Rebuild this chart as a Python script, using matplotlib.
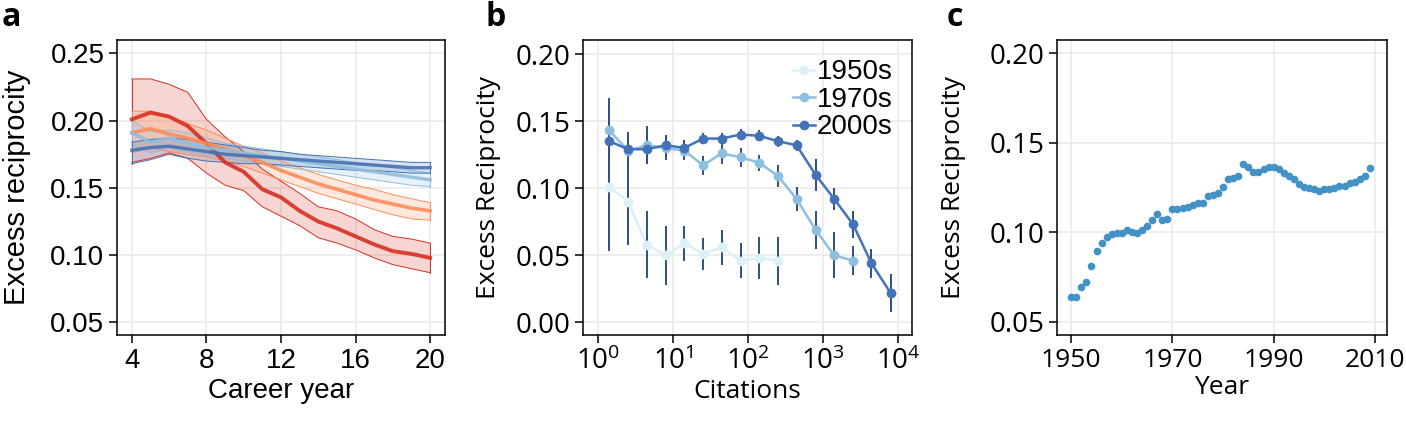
import numpy as np
import matplotlib
matplotlib.use("Agg")
import matplotlib.pyplot as plt
from matplotlib.ticker import LogLocator, NullLocator

# --- data: panel a (career year curves, mean with lower/upper band) ---
career_year = list(range(4, 21))

red_mean = [0.201, 0.206, 0.203, 0.196, 0.183, 0.169, 0.162, 0.149, 0.143, 0.133,
            0.125, 0.120, 0.114, 0.108, 0.103, 0.101, 0.098]
red_hi = [0.231, 0.231, 0.227, 0.221, 0.201, 0.188, 0.177, 0.164, 0.155, 0.146,
          0.136, 0.133, 0.127, 0.119, 0.114, 0.112, 0.109]
red_lo = [0.169, 0.172, 0.176, 0.172, 0.161, 0.152, 0.148, 0.136, 0.129, 0.122,
          0.113, 0.109, 0.104, 0.098, 0.093, 0.090, 0.087]

orange_mean = [0.191, 0.194, 0.190, 0.187, 0.183, 0.179, 0.174, 0.169, 0.163, 0.158,
               0.153, 0.149, 0.145, 0.141, 0.138, 0.135, 0.133]
orange_hi = [0.207, 0.207, 0.203, 0.198, 0.193, 0.187, 0.181, 0.176, 0.170, 0.165,
             0.160, 0.156, 0.152, 0.149, 0.145, 0.142, 0.139]
orange_lo = [0.176, 0.180, 0.177, 0.175, 0.173, 0.170, 0.166, 0.161, 0.156, 0.151,
             0.146, 0.142, 0.138, 0.134, 0.130, 0.127, 0.126]

lblue_mean = [0.191, 0.184, 0.187, 0.183, 0.180, 0.178, 0.176, 0.174, 0.172, 0.170,
              0.168, 0.166, 0.164, 0.162, 0.160, 0.158, 0.156]
lblue_hi = [0.200, 0.192, 0.193, 0.191, 0.187, 0.183, 0.181, 0.179, 0.177, 0.175,
            0.173, 0.171, 0.169, 0.167, 0.165, 0.163, 0.161]
lblue_lo = [0.182, 0.176, 0.180, 0.177, 0.174, 0.172, 0.170, 0.168, 0.166, 0.164,
            0.162, 0.160, 0.158, 0.156, 0.154, 0.152, 0.151]

dblue_mean = [0.178, 0.180, 0.181, 0.179, 0.177, 0.175, 0.174, 0.173, 0.172, 0.171,
              0.170, 0.169, 0.168, 0.167, 0.166, 0.165, 0.165]
dblue_hi = [0.184, 0.186, 0.187, 0.186, 0.184, 0.182, 0.180, 0.178, 0.177, 0.175,
            0.174, 0.173, 0.172, 0.171, 0.170, 0.169, 0.169]
dblue_lo = [0.168, 0.171, 0.175, 0.172, 0.170, 0.169, 0.168, 0.168, 0.167, 0.166,
            0.165, 0.164, 0.163, 0.163, 0.162, 0.161, 0.161]

# --- data: panel b (citations bins) ---
cit_bins = [1.4, 2.5, 4.4, 7.9, 14, 25, 44, 79, 140, 250, 440, 790, 1400, 2500, 4400, 7900]

y1950 = [0.101, 0.090, 0.058, 0.050, 0.059, 0.051, 0.056, 0.046, 0.048, 0.046]
e1950 = [0.048, 0.032, 0.025, 0.022, 0.013, 0.012, 0.013, 0.013, 0.016, 0.018]

y1970 = [0.143, 0.128, 0.132, 0.130, 0.128, 0.117, 0.126, 0.123, 0.119, 0.109,
         0.092, 0.069, 0.050, 0.046]
e1970 = [0.024, 0.014, 0.014, 0.009, 0.007, 0.007, 0.008, 0.007, 0.006, 0.008,
         0.009, 0.014, 0.017, 0.011]

y2000 = [0.135, 0.129, 0.129, 0.132, 0.130, 0.137, 0.137, 0.140, 0.139, 0.135,
         0.132, 0.110, 0.092, 0.073, 0.044, 0.022]
e2000 = [0.010, 0.010, 0.010, 0.008, 0.006, 0.004, 0.004, 0.004, 0.004, 0.004,
         0.004, 0.012, 0.008, 0.010, 0.011, 0.014]

decades = ["1950s", "1970s", "2000s"]

# --- data: panel c (yearly excess reciprocity) ---
years = list(range(1950, 2010))
recip = [0.0636, 0.0640, 0.0695, 0.0720, 0.0813, 0.0895, 0.0938, 0.0971, 0.0988, 0.0994,
         0.0994, 0.1012, 0.0999, 0.0997, 0.1012, 0.1035, 0.1068, 0.1100, 0.1068, 0.1074,
         0.1128, 0.1128, 0.1134, 0.1143, 0.1152, 0.1161, 0.1161, 0.1202, 0.1208, 0.1217,
         0.1255, 0.1297, 0.1301, 0.1316, 0.1379, 0.1366, 0.1335, 0.1338, 0.1351, 0.1363,
         0.1366, 0.1351, 0.1333, 0.1314, 0.1296, 0.1269, 0.1255, 0.1245, 0.1240, 0.1230,
         0.1240, 0.1242, 0.1245, 0.1258, 0.1260, 0.1273, 0.1282, 0.1296, 0.1316, 0.1357]

# --- style ---
ARIAL = "Liberation Sans"
SEGOE = "Open Sans"
FS = 20       # tick labels
LFS = 19      # axis labels
GRID = "#ebebeb"

plt.rcParams["mathtext.fontset"] = "custom"
plt.rcParams["mathtext.rm"] = SEGOE
plt.rcParams["mathtext.it"] = SEGOE

fig = plt.figure(figsize=(14.06, 4.26), dpi=100)
ax_a = fig.add_axes([0.0832, 0.2136, 0.2333, 0.6924])
ax_b = fig.add_axes([0.4147, 0.2136, 0.2339, 0.6924])
ax_c = fig.add_axes([0.7518, 0.2136, 0.2347, 0.6924])


def style_axes(ax, font):
    ax.set_axisbelow(True)
    ax.grid(True, color=GRID, linewidth=1.2)
    for sp in ax.spines.values():
        sp.set_linewidth(1.1)
    ax.tick_params(direction="out", length=6, width=1.1, labelsize=FS, pad=3)
    for lab in ax.get_xticklabels() + ax.get_yticklabels():
        lab.set_family(font)


# panel a
series_a = [
    (red_mean, red_lo, red_hi, "#d7301f", 2.8),
    (orange_mean, orange_lo, orange_hi, "#fc8d59", 2.6),
    (lblue_mean, lblue_lo, lblue_hi, "#8fbcdc", 2.4),
    (dblue_mean, dblue_lo, dblue_hi, "#4472b4", 2.4),
]
for mean, lo, hi, col, lw in series_a:
    ax_a.fill_between(career_year, lo, hi, facecolor=col, alpha=0.2, edgecolor="none")
    ax_a.plot(career_year, lo, color=col, lw=0.7)
    ax_a.plot(career_year, hi, color=col, lw=0.7)
    ax_a.plot([career_year[0]] * 2, [lo[0], hi[0]], color=col, lw=0.7)
    ax_a.plot([career_year[-1]] * 2, [lo[-1], hi[-1]], color=col, lw=0.7)
for mean, lo, hi, col, lw in series_a:
    ax_a.plot(career_year, mean, color=col, lw=lw, alpha=0.9)

ax_a.set_xlim(3.2, 20.8)
ax_a.set_ylim(0.0407, 0.2599)
ax_a.set_xticks([4, 8, 12, 16, 20])
ax_a.set_yticks([0.05, 0.10, 0.15, 0.20, 0.25])
ax_a.set_yticklabels(["0.05", "0.10", "0.15", "0.20", "0.25"])
style_axes(ax_a, ARIAL)
ax_a.set_xlabel("Career year", family=ARIAL, fontsize=20, labelpad=3)
ax_a.set_ylabel("Excess reciprocity", family=ARIAL, fontsize=21)
ax_a.yaxis.set_label_coords(-0.262, 0.5)

# panel b
cols_b = ["#dcf0f7", "#8fbfe0", "#4472b8"]
ys_b = [y1950, y1970, y2000]
es_b = [e1950, e1970, e2000]
for lab, y, e, col in zip(decades, ys_b, es_b, cols_b):
    x = cit_bins[:len(y)]
    ax_b.errorbar(x, y, yerr=e, fmt="none", ecolor="#2f4f82", elinewidth=1.4, zorder=2)
for lab, y, e, col in zip(decades, ys_b, es_b, cols_b):
    x = cit_bins[:len(y)]
    ax_b.plot(x, y, "-o", color=col, lw=1.8, ms=6, label=lab, zorder=3)

ax_b.set_xscale("log")
ax_b.set_xlim(10 ** -0.204, 10 ** 4.183)
ax_b.set_ylim(-0.0094, 0.2104)
ax_b.xaxis.set_major_locator(LogLocator(base=10, numticks=10))
ax_b.xaxis.set_minor_locator(NullLocator())
ax_b.set_yticks([0.0, 0.05, 0.10, 0.15, 0.20])
ax_b.set_yticklabels(["0.00", "0.05", "0.10", "0.15", "0.20"])
style_axes(ax_b, SEGOE)
ax_b.set_xlabel("Citations", family=SEGOE, fontsize=LFS, labelpad=2)
ax_b.set_ylabel("Excess Reciprocity", family=SEGOE, fontsize=LFS)
ax_b.yaxis.set_label_coords(-0.25, 0.5)
leg = ax_b.legend(loc="upper right", frameon=False, prop={"family": ARIAL, "size": 20},
                  handlelength=0.8, handletextpad=0.05, labelspacing=0.05,
                  borderaxespad=0.6, borderpad=0.1)

# panel c
ax_c.plot(years, recip, "o", color="#4292c6", ms=5.5, mec="none")
ax_c.set_xlim(1947.2, 2012.4)
ax_c.set_ylim(0.0426, 0.2074)
ax_c.set_xticks([1950, 1970, 1990, 2010])
ax_c.set_yticks([0.05, 0.10, 0.15, 0.20])
ax_c.set_yticklabels(["0.05", "0.10", "0.15", "0.20"])
style_axes(ax_c, SEGOE)
ax_c.tick_params(axis="x", labelsize=19)
ax_c.set_xlabel("Year", family=SEGOE, fontsize=LFS, labelpad=2)
ax_c.set_ylabel("Excess Reciprocity", family=SEGOE, fontsize=LFS)
ax_c.yaxis.set_label_coords(-0.275, 0.5)

# panel letters
for xpos, letter in [(0.001, "a"), (0.345, "b"), (0.673, "c")]:
    fig.text(xpos, 0.997, letter, family=SEGOE, fontweight="bold", fontsize=23,
             va="top", ha="left")

fig.savefig("out.png", dpi=100)
